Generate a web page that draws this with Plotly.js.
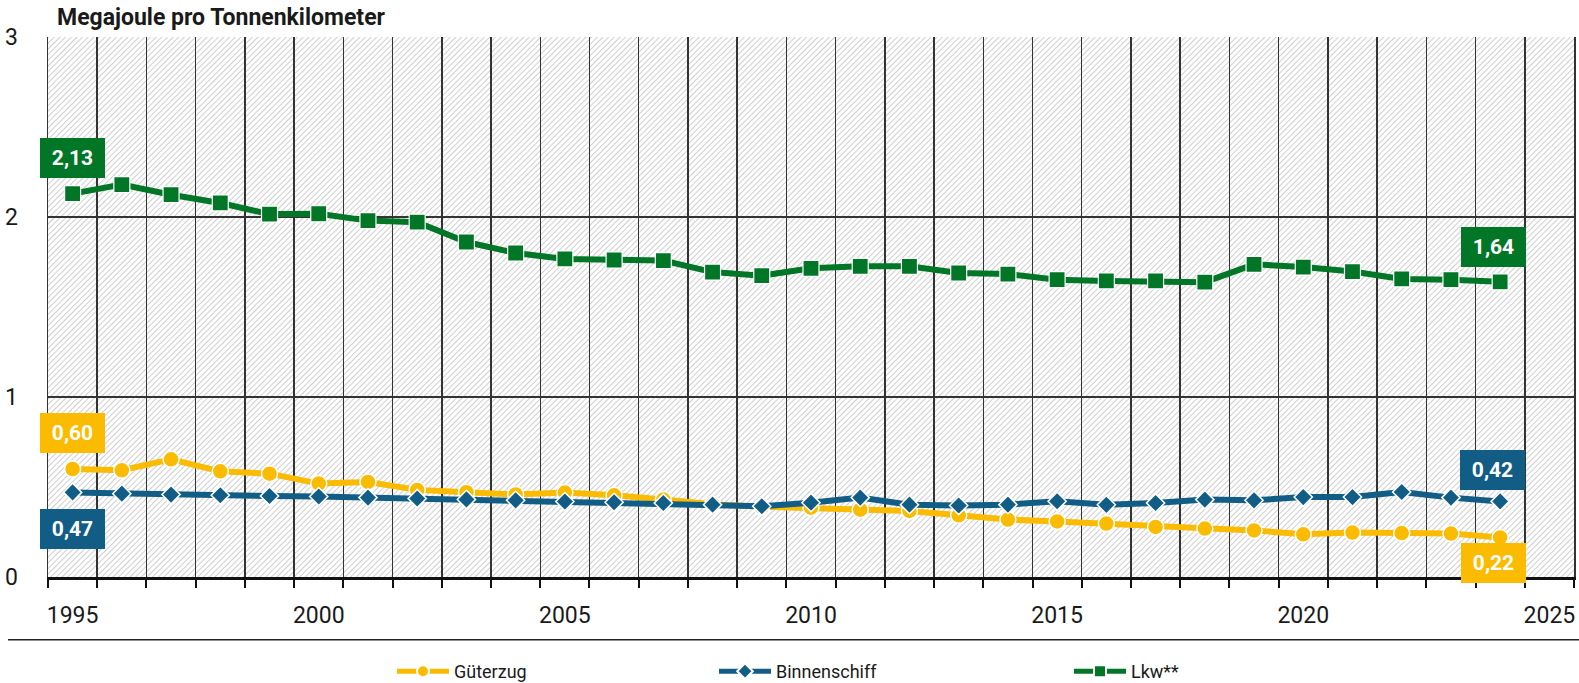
<!DOCTYPE html>
<html>
<head>
<meta charset="utf-8">
<script src="https://cdn.plot.ly/plotly-3.0.1.min.js"></script>
<style>
  html, body { margin: 0; padding: 0; background: #ffffff; }
  #chart { width: 1579px; height: 683px; }
</style>
</head>
<body>
<div id="chart"></div>
<script>
// ---- data ----
const years = [1995, 1996, 1997, 1998, 1999, 2000, 2001, 2002, 2003, 2004,
               2005, 2006, 2007, 2008, 2009, 2010, 2011, 2012, 2013, 2014,
               2015, 2016, 2017, 2018, 2019, 2020, 2021, 2022, 2023, 2024];

const gueterzug = [0.60, 0.593, 0.654, 0.587, 0.574, 0.519, 0.528, 0.484, 0.471, 0.459,
                   0.469, 0.454, 0.430, 0.404, 0.390, 0.385, 0.374, 0.367, 0.343, 0.319,
                   0.309, 0.297, 0.278, 0.269, 0.259, 0.237, 0.247, 0.244, 0.241, 0.22];

const binnenschiff = [0.47, 0.463, 0.458, 0.454, 0.450, 0.447, 0.441, 0.436, 0.431, 0.426,
                      0.419, 0.415, 0.411, 0.402, 0.393, 0.413, 0.441, 0.402, 0.397, 0.402,
                      0.421, 0.401, 0.411, 0.430, 0.426, 0.444, 0.444, 0.472, 0.441, 0.42];

const lkw = [2.13, 2.18, 2.124, 2.078, 2.016, 2.018, 1.980, 1.971, 1.861, 1.800,
             1.767, 1.761, 1.758, 1.694, 1.674, 1.715, 1.726, 1.726, 1.689, 1.683,
             1.652, 1.645, 1.645, 1.638, 1.737, 1.722, 1.697, 1.656, 1.652, 1.64];

const seriesNames = ['Güterzug', 'Binnenschiff', 'Lkw**'];
const xTickYears = [1995, 2000, 2005, 2010, 2015, 2020, 2025];
const yTicks = [0, 1, 2, 3];
const titleText = 'Megajoule pro Tonnenkilometer';

// ---- styles ----
const cYellow = '#FABB00', cBlue = '#125D86', cGreen = '#007626';
const FONT = 'Roboto, "Open Sans", sans-serif';

const fmt = v => v.toFixed(2).replace('.', ',');

const traces = [
  {
    x: years, y: gueterzug, name: seriesNames[0], type: 'scatter', mode: 'lines+markers',
    line: { color: cYellow, width: 6 },
    marker: { symbol: 'circle', size: 16, color: cYellow, line: { color: '#ffffff', width: 1.5 } },
    legend: 'legend', hoverinfo: 'skip'
  },
  {
    x: years, y: binnenschiff, name: seriesNames[1], type: 'scatter', mode: 'lines+markers',
    line: { color: cBlue, width: 6 },
    marker: { symbol: 'diamond', size: 14, color: cBlue, line: { color: '#ffffff', width: 1.5 } },
    legend: 'legend2', hoverinfo: 'skip'
  },
  {
    x: years, y: lkw, name: seriesNames[2], type: 'scatter', mode: 'lines+markers',
    line: { color: cGreen, width: 6 },
    marker: { symbol: 'square', size: 16, color: cGreen, line: { color: '#ffffff', width: 1.2 } },
    legend: 'legend3', hoverinfo: 'skip'
  }
];

// category boundaries for grid / ticks
const bounds = [];
for (let i = 0; i <= years.length + 1; i++) bounds.push(years[0] - 0.5 + i);

const first = 0, last = years.length - 1;
function box(x, y, color, xs, ys) {
  return {
    x: x, y: y, xref: 'x', yref: 'y', text: '<b>' + fmt(y) + '</b>', showarrow: false,
    xshift: xs, yshift: ys, bgcolor: color, borderwidth: 0, borderpad: 4,
    width: 57, height: 32, align: 'center', valign: 'middle',
    font: { family: FONT, size: 21, color: '#ffffff' }
  };
}

const hatch = "data:image/svg+xml;utf8," + encodeURIComponent(
  "<svg xmlns='http://www.w3.org/2000/svg' width='1526' height='541' viewBox='0 0 1526 541'>" +
  "<defs><pattern id='p' width='4' height='4' patternUnits='userSpaceOnUse' patternTransform='rotate(45)'>" +
  "<rect width='4' height='4' fill='#ffffff'/>" +
  "<line x1='0' y1='0' x2='0' y2='4' stroke='#c9c9c9' stroke-width='1.8'/></pattern></defs>" +
  "<rect width='1526' height='541' fill='url(#p)'/></svg>");

const legendCommon = {
  orientation: 'h', xref: 'paper', yref: 'paper', xanchor: 'left', yanchor: 'middle',
  y: -0.175, bgcolor: 'rgba(0,0,0,0)', itemwidth: 52, itemsizing: 'constant',
  font: { family: FONT, size: 18, color: '#1a1a1a' }
};

const layout = {
  width: 1579, height: 683,
  margin: { l: 48, r: 5, t: 37, b: 106, autoexpand: false },
  paper_bgcolor: '#ffffff',
  plot_bgcolor: 'rgba(0,0,0,0)',
  font: { family: FONT, size: 23, color: '#1a1a1a' },
  title: {
    text: '<b>' + titleText + '</b>', xref: 'container', yref: 'container',
    x: 57 / 1579, xanchor: 'left', y: 1 - 17 / 683, yanchor: 'middle',
    font: { family: FONT, size: 23, color: '#1a1a1a' }
  },
  xaxis: {
    range: [years[0] - 0.5, years[0] + 30.5],
    tickmode: 'array', tickvals: xTickYears, ticktext: xTickYears.map(String),
    ticks: '', showgrid: false, zeroline: false,
    ticklabelstandoff: 16,
    showline: true, linecolor: '#111111', linewidth: 2.5,
    minor: {
      tickmode: 'array', tickvals: bounds,
      ticks: 'outside', ticklen: 8, tickwidth: 2, tickcolor: '#111111',
      showgrid: true, gridcolor: '#333333', gridwidth: 1.5
    },
    tickfont: { family: FONT, size: 23, color: '#1a1a1a' },
    fixedrange: true
  },
  yaxis: {
    range: [0, 3], tickmode: 'array', tickvals: yTicks, ticktext: yTicks.map(String),
    ticks: '', showgrid: true, gridcolor: '#333333', gridwidth: 1.5, zeroline: false,
    showline: true, mirror: true, linecolor: '#333333', linewidth: 1.5,
    ticklabelstandoff: 24,
    tickfont: { family: FONT, size: 23, color: '#1a1a1a' },
    fixedrange: true
  },
  images: [{
    source: hatch, xref: 'paper', yref: 'paper', x: 0, y: 1, sizex: 1, sizey: 1,
    xanchor: 'left', yanchor: 'top', sizing: 'stretch', layer: 'below'
  }],
  shapes: [{
    type: 'line', xref: 'paper', yref: 'paper',
    x0: (8 - 48) / 1526, x1: (1579 - 48) / 1526, y0: -0.116, y1: -0.116,
    line: { color: '#222222', width: 1.5 }
  }],
  annotations: [
    box(years[first], lkw[first], cGreen, 0, 36),
    box(years[first], gueterzug[first], cYellow, 0, 36),
    box(years[first], binnenschiff[first], cBlue, 0, -37),
    box(years[last], lkw[last], cGreen, -7, 35),
    box(years[last], binnenschiff[last], cBlue, -8, 31),
    box(years[last], gueterzug[last], cYellow, -7, -26)
  ],
  legend: Object.assign({}, legendCommon, { x: (392 - 48) / 1526 }),
  legend2: Object.assign({}, legendCommon, { x: (714 - 48) / 1526 }),
  legend3: Object.assign({}, legendCommon, { x: (1069 - 48) / 1526 }),
  showlegend: true
};

Plotly.newPlot('chart', traces, layout, { staticPlot: true, displayModeBar: false });
</script>
</body>
</html>
